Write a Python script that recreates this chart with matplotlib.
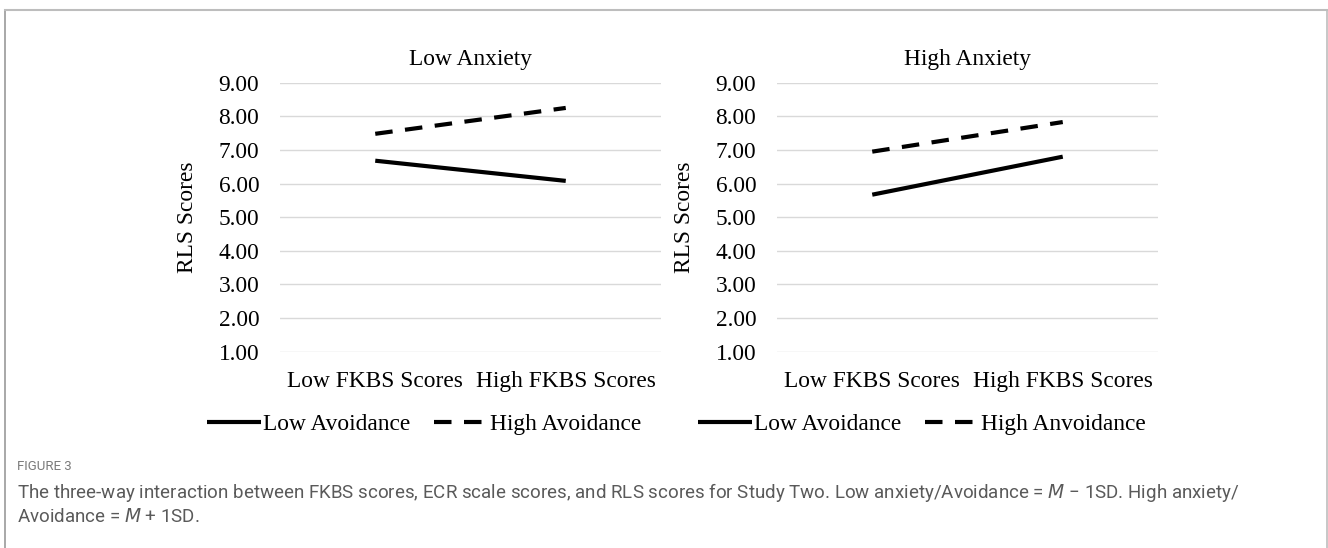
import numpy as np
import matplotlib.pyplot as plt
from matplotlib.lines import Line2D

# data
categories = ["Low FKBS Scores", "High FKBS Scores"]
panel_titles = ["Low Anxiety", "High Anxiety"]
low_avoid = [[6.68, 6.08], [5.67, 6.80]]
high_avoid = [[7.48, 8.25], [6.95, 7.83]]
legend_labels = [["Low Avoidance", "High Avoidance"],
                 ["Low Avoidance", "High Anvoidance"]]
yticks = [1, 2, 3, 4, 5, 6, 7, 8, 9]

W, H = 1328, 548
fig = plt.figure(figsize=(W / 100, H / 100), dpi=100)
serif = "Liberation Serif"
fs = 16.8

# outer frame (top, left, right)
fig.add_artist(Line2D([4.5 / W, 4.5 / W], [0, 1 - 9.5 / H], transform=fig.transFigure,
                      color="#9a9a9a", lw=1.2))
fig.add_artist(Line2D([4.5 / W, 1 - 1.5 / W], [1 - 9.5 / H, 1 - 9.5 / H],
                      transform=fig.transFigure, color="#bdbdbd", lw=1.5))
fig.add_artist(Line2D([1 - 1.5 / W, 1 - 1.5 / W], [0, 1 - 9.5 / H],
                      transform=fig.transFigure, color="#bdbdbd", lw=1.2))

ax_left = [280, 777]
ax_width = 381
ax_top, ax_bot = 82.7, 351.7
legend_cx = [424, 922]

x = np.arange(len(categories))
for i in range(2):
    ax = fig.add_axes([ax_left[i] / W, 1 - ax_bot / H, ax_width / W, (ax_bot - ax_top) / H])
    ax.plot(x, low_avoid[i], color="black", lw=3, solid_capstyle="butt",
            label=legend_labels[i][0])
    ax.plot(x, high_avoid[i], color="black", lw=3, ls=(0, (4.2, 3.0)),
            dash_capstyle="butt", label=legend_labels[i][1])
    ax.set_xlim(-0.5, 1.5)
    ax.set_ylim(1, 9)
    ax.set_yticks(yticks)
    ax.set_yticklabels([f"{v:.2f}" for v in yticks], fontsize=fs, family=serif)
    ax.set_xticks(x)
    ax.set_xticklabels(categories, fontsize=fs, family=serif)
    ax.tick_params(length=0, pad=15)
    ax.tick_params(axis="x", pad=14)
    ax.grid(axis="y", color="#d9d9d9", lw=1)
    ax.set_axisbelow(True)
    for s in ax.spines.values():
        s.set_visible(False)
    ax.set_title(panel_titles[i], fontsize=fs, family=serif, pad=13)
    ax.set_ylabel("RLS Scores", fontsize=fs, family=serif, labelpad=15)
    fig.legend(*ax.get_legend_handles_labels(), loc="center",
               bbox_to_anchor=(legend_cx[i] / W, 1 - 424 / H), ncol=2, frameon=False,
               prop={"family": serif, "size": fs}, handlelength=2.3,
               handletextpad=0.1, columnspacing=1.0)

cap_font = ["Roboto", "DejaVu Sans"]
fig.text(17 / W, 1 - 467 / H, "FIGURE 3", fontsize=9.5, color="#7a7a7a",
         family=cap_font, va="center")
fig.text(17 / W, 1 - 493 / H,
         "The three-way interaction between FKBS scores, ECR scale scores, and RLS scores for "
         "Study Two. Low anxiety/Avoidance = $M$ \u2212 1SD. High anxiety/",
         fontsize=13.5, color="#5a5a5a", family=cap_font, va="center")
fig.text(17 / W, 1 - 517 / H, "Avoidance = $M$ + 1SD.",
         fontsize=13.5, color="#5a5a5a", family=cap_font, va="center")

fig.savefig("out.png", dpi=100)
